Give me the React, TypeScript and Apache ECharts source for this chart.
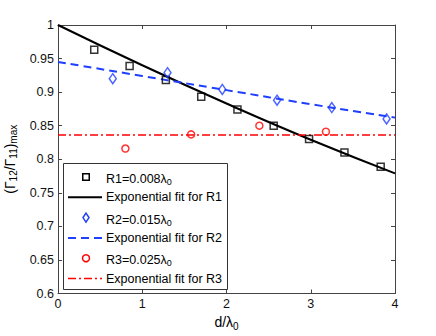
import { useEffect, useRef } from 'react';
import * as echarts from 'echarts';

const X_R1 = [0.43, 0.85, 1.28, 1.70, 2.13, 2.56, 2.98, 3.40, 3.83];
const Y_R1 = [0.963, 0.939, 0.918, 0.893, 0.874, 0.850, 0.830, 0.810, 0.789];
const X_R2 = [0.65, 1.30, 1.95, 2.60, 3.25, 3.90];
const Y_R2 = [0.920, 0.929, 0.904, 0.888, 0.877, 0.860];
const X_R3 = [0.80, 1.58, 2.39, 3.18];
const Y_R3 = [0.816, 0.837, 0.850, 0.841];
const X_FIT = [0, 1, 2, 3, 4];
const FIT_R1 = [1.0, 0.940, 0.883, 0.829, 0.779];
const FIT_R2 = [0.945, 0.924, 0.903, 0.882, 0.862];
const FIT_R3 = [0.836, 0.836, 0.836, 0.836, 0.836];
const LEGEND_LABELS = [
  ['R1=0.008λ', '0'],
  ['Exponential fit for R1', ''],
  ['R2=0.015λ', '0'],
  ['Exponential fit for R2', ''],
  ['R3=0.025λ', '0'],
  ['Exponential fit for R3', ''],
];

const FONT = '"Liberation Sans", Arial, Helvetica, sans-serif';
const BLACK = '#000000';
const BLUE = '#1f3fff';
const RED = '#ff0000';
const AXIS = '#444444';

const zip = (xs: number[], ys: number[]) => xs.map((x, i) => [x, ys[i]]);

const fmt = (v: number) => String(+v.toFixed(2));

const rich = {
  a: { fontSize: 14, fontFamily: FONT, color: '#000', lineHeight: 18 },
  s: { fontSize: 10, fontFamily: FONT, color: '#000', lineHeight: 10, verticalAlign: 'bottom' as const },
};
const legendRich = {
  a: { fontSize: 12.5, fontFamily: FONT, color: '#000', lineHeight: 15 },
  s: { fontSize: 9, fontFamily: FONT, color: '#000', lineHeight: 8, verticalAlign: 'bottom' as const },
};

function legendGraphics() {
  const left = 63.5, top = 163.5, w = 164, h = 126;
  const y0 = 177, step = 20.3;
  const mx = 86, lx1 = 68, lx2 = 102, tx = 106;
  const els: any[] = [
    { type: 'rect', shape: { x: left, y: top, width: w, height: h }, style: { fill: '#fff', stroke: '#333', lineWidth: 1 }, z: 100 },
  ];
  LEGEND_LABELS.forEach((lab, i) => {
    const y = y0 + i * step;
    const text = lab[1] ? `{a|${lab[0]}}{s|${lab[1]}}` : `{a|${lab[0]}}`;
    els.push({
      type: 'text', z: 101,
      style: { x: tx, y: y + (lab[1] ? 2 : 0), text, rich: legendRich, verticalAlign: 'middle', align: 'left' },
    });
  });
  els.push({ type: 'rect', z: 101, shape: { x: mx - 3.25, y: y0 - 3.25, width: 6.5, height: 6.5 }, style: { fill: 'none', stroke: BLACK, lineWidth: 1.5 } });
  els.push({ type: 'line', z: 101, shape: { x1: lx1, y1: y0 + step, x2: lx2, y2: y0 + step }, style: { stroke: BLACK, lineWidth: 2 } });
  els.push({ type: 'polygon', z: 101, shape: { points: [[mx, y0 + 2 * step - 4.5], [mx + 3, y0 + 2 * step], [mx, y0 + 2 * step + 4.5], [mx - 3, y0 + 2 * step]] }, style: { fill: 'none', stroke: BLUE, lineWidth: 1.5 } });
  els.push({ type: 'line', z: 101, shape: { x1: lx1, y1: y0 + 3 * step, x2: lx2, y2: y0 + 3 * step }, style: { stroke: BLUE, lineWidth: 2, lineDash: [8, 5] } });
  els.push({ type: 'circle', z: 101, shape: { cx: mx, cy: y0 + 4 * step, r: 3.5 }, style: { fill: 'none', stroke: RED, lineWidth: 1.5 } });
  els.push({ type: 'line', z: 101, shape: { x1: lx1, y1: y0 + 5 * step, x2: lx2, y2: y0 + 5 * step }, style: { stroke: RED, lineWidth: 1.5, lineDash: [8, 3, 2, 3] } });
  return els;
}

export default function App() {
  const ref = useRef<HTMLDivElement>(null);
  useEffect(() => {
    document.body.style.margin = '0';
    const chart = echarts.init(ref.current!, null, { renderer: 'svg' });
    const axisCommon = {
      type: 'value' as const,
      axisLine: { show: true, onZero: false, lineStyle: { color: AXIS, width: 1 } },
      axisTick: { show: true, inside: true, length: 4, lineStyle: { color: AXIS } },
      splitLine: { show: false },
    };
    chart.setOption({
      animation: false,
      backgroundColor: '#fff',
      textStyle: { fontFamily: FONT },
      grid: { left: 58, top: 25, right: 41, bottom: 42.5, containLabel: false, outerBoundsMode: 'none' },
      xAxis: [
        {
          ...axisCommon, min: 0, max: 4, interval: 1, position: 'bottom',
          axisLabel: { color: '#111', fontSize: 12.5, margin: 4, fontFamily: FONT, formatter: fmt },
          name: '{a|d/λ}{s|0}', nameLocation: 'middle', nameGap: 17,
          nameTextStyle: { rich },
        },
        { ...axisCommon, min: 0, max: 4, interval: 1, position: 'top', axisLabel: { show: false } },
      ],
      yAxis: [
        {
          ...axisCommon, min: 0.6, max: 1, interval: 0.05, position: 'left',
          axisLabel: { color: '#111', fontSize: 12.5, margin: 4, fontFamily: FONT, formatter: fmt },
          name: '{a|(Γ}{s|12}{a|/Γ}{s|11}{a|)}{s|max}', nameLocation: 'middle', nameGap: 36, nameRotate: 90,
          nameTextStyle: { rich },
        },
        { ...axisCommon, min: 0.6, max: 1, interval: 0.05, position: 'right', axisLabel: { show: false } },
      ],
      series: [
        {
          type: 'line', data: zip(X_FIT, FIT_R1), smooth: true, symbol: 'none',
          lineStyle: { color: BLACK, width: 2 }, z: 2,
        },
        {
          type: 'line', data: zip(X_FIT, FIT_R2), smooth: true, symbol: 'none',
          lineStyle: { color: BLUE, width: 2, type: [8, 5] }, z: 2,
        },
        {
          type: 'line', data: zip(X_FIT, FIT_R3), symbol: 'none',
          lineStyle: { color: RED, width: 1.5, type: [8, 3, 2, 3] }, z: 2,
        },
        {
          type: 'scatter', data: zip(X_R1, Y_R1), symbol: 'rect', symbolSize: 7,
          itemStyle: { color: 'transparent', borderColor: BLACK, borderWidth: 1.5 }, z: 3,
        },
        {
          type: 'scatter', data: zip(X_R2, Y_R2), symbol: 'diamond', symbolSize: [7, 10],
          itemStyle: { color: 'transparent', borderColor: BLUE, borderWidth: 1.5 }, z: 3,
        },
        {
          type: 'scatter', data: zip(X_R3, Y_R3), symbol: 'circle', symbolSize: 7,
          itemStyle: { color: 'transparent', borderColor: RED, borderWidth: 1.5 }, z: 3,
        },
      ],
      graphic: legendGraphics(),
    });
    return () => chart.dispose();
  }, []);
  return <div ref={ref} style={{ width: 436, height: 336 }} />;
}
